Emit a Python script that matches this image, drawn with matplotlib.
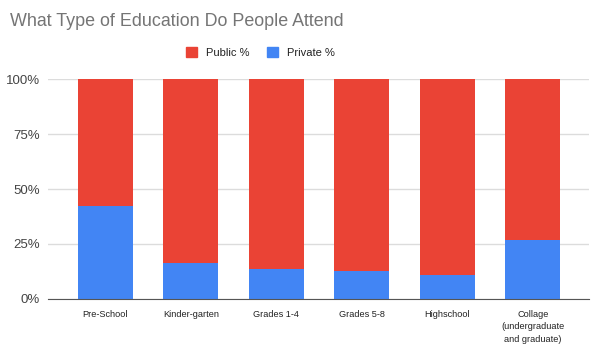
import matplotlib
matplotlib.use("Agg")
import matplotlib.pyplot as plt
from matplotlib.ticker import PercentFormatter
from matplotlib.patches import Patch

categories = ["Pre-School", "Kinder-garten", "Grades 1-4", "Grades 5-8",
              "Highschool", "Collage\n(undergraduate\nand graduate)"]
private_pct = [42.4, 16.1, 13.7, 12.8, 10.8, 26.8]
public_pct = [57.6, 83.9, 86.3, 87.2, 89.2, 73.2]
y_ticks = [0, 25, 50, 75, 100]

red = "#EA4335"
blue = "#4285F4"

plt.rcParams['font.family'] = ['Liberation Sans', 'DejaVu Sans']

fig = plt.figure(figsize=(6, 3.56), dpi=100)
ax = fig.add_axes([0.08, 0.161, 0.902, 0.616])

x = range(len(categories))
ax.bar(x, private_pct, width=0.645, color=blue, zorder=3)
ax.bar(x, public_pct, width=0.645, bottom=private_pct, color=red, zorder=3)

ax.set_ylim(0, 100)
ax.set_xlim(-0.67, 5.66)
ax.set_yticks(y_ticks)
ax.yaxis.set_major_formatter(PercentFormatter(decimals=0))
ax.grid(axis="y", color="#dcdcdc", linewidth=1, zorder=0)
for s in ["top", "right", "left"]:
    ax.spines[s].set_visible(False)
ax.spines["bottom"].set_color("#555555")
ax.spines["bottom"].set_zorder(4)
ax.tick_params(axis="y", length=0, pad=6, labelsize=9.5, labelcolor="#444444")
ax.tick_params(axis="x", length=0, pad=8)
ax.set_xticks(list(x))
ax.set_xticklabels(categories, fontsize=6.6, color="#222222", linespacing=1.5)

fig.text(0.017, 0.94, "What Type of Education Do People Attend",
         fontsize=12.9, color="#757575", va="center", ha="left")

handles = [Patch(color=red, label="Public %"), Patch(color=blue, label="Private %")]
fig.legend(handles=handles, loc="center", bbox_to_anchor=(0.434, 0.852), ncol=2,
           frameon=False, fontsize=8, handlelength=0.95, handleheight=1.0,
           handletextpad=0.8, columnspacing=1.6, labelcolor="#222222")

fig.savefig("out.png", dpi=100)
